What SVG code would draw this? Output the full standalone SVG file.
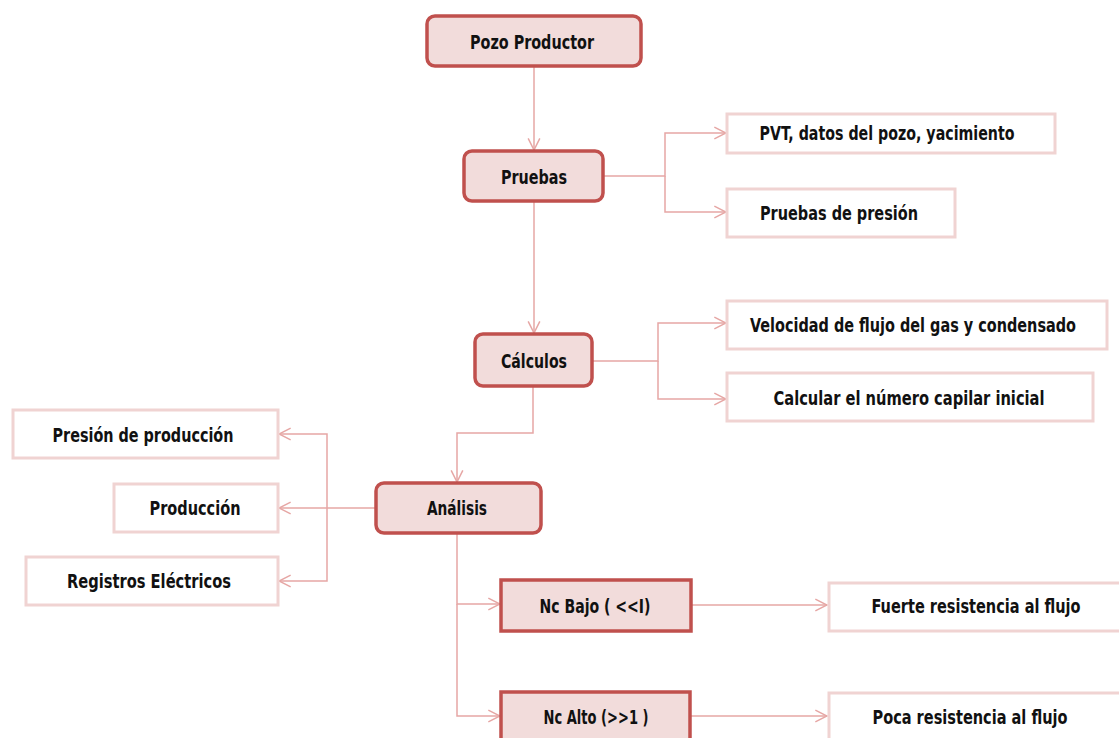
<svg xmlns="http://www.w3.org/2000/svg" width="1119" height="738" viewBox="0 0 1119 738">
  <style>
    .main { fill: #f2dcdb; stroke: #c0504d; stroke-width: 3.5; }
    .leaf { fill: #ffffff; stroke: #f0d3d2; stroke-width: 3; }
    .lbl { font-family: "DejaVu Sans Condensed", "DejaVu Sans", sans-serif; font-weight: bold; font-size: 19px; fill: #111111; text-anchor: middle; }
    .conn { fill: none; stroke: #e6a7a5; stroke-width: 1.5; }
  </style>
  <defs>
    <marker id="arr" viewBox="0 0 12 12" refX="11" refY="6" markerWidth="14" markerHeight="14" markerUnits="userSpaceOnUse" orient="auto">
      <path d="M1,1 L11,6 L1,11" fill="none" stroke="#e6a7a5" stroke-width="1.3"/>
    </marker>
  </defs>

  <rect width="1119" height="738" fill="#ffffff"/>

  <g id="connectors" class="conn" marker-end="url(#arr)">
    <path d="M534,66 V150"/>
    <path d="M603,176 H665 V133 H726"/>
    <path d="M665,176 V212 H726"/>
    <path d="M534,201 V333"/>
    <path d="M592,361 H658 V323 H726"/>
    <path d="M658,361 V399 H726"/>
    <path d="M533,386 V433 H457 V482"/>
    <path d="M376,508 H279"/>
    <path d="M327,508 V434 H279"/>
    <path d="M327,508 V581 H279"/>
    <path d="M457,533 V604 H500"/>
    <path d="M457,604 V716 H500"/>
    <path d="M691,605 H827"/>
    <path d="M690,716 H827"/>
  </g>

  <g id="pozo-productor">
    <rect class="main" x="427" y="16" width="214" height="50" rx="8"/>
    <text class="lbl" x="532" y="49" textLength="124" lengthAdjust="spacingAndGlyphs">Pozo Productor</text>
  </g>
  <g id="pruebas">
    <rect class="main" x="464" y="151" width="139" height="50" rx="8"/>
    <text class="lbl" x="534" y="184" textLength="66" lengthAdjust="spacingAndGlyphs">Pruebas</text>
  </g>
  <g id="pvt">
    <rect class="leaf" x="727" y="114" width="328" height="39"/>
    <text class="lbl" x="887" y="140" textLength="255" lengthAdjust="spacingAndGlyphs">PVT, datos del pozo, yacimiento</text>
  </g>
  <g id="pruebas-presion">
    <rect class="leaf" x="727" y="189" width="228" height="48"/>
    <text class="lbl" x="839" y="220" textLength="158" lengthAdjust="spacingAndGlyphs">Pruebas de presión</text>
  </g>
  <g id="calculos">
    <rect class="main" x="475" y="334" width="117" height="52" rx="8"/>
    <text class="lbl" x="534" y="368" textLength="66" lengthAdjust="spacingAndGlyphs">Cálculos</text>
  </g>
  <g id="velocidad">
    <rect class="leaf" x="727" y="301" width="380" height="48"/>
    <text class="lbl" x="913" y="332" textLength="326" lengthAdjust="spacingAndGlyphs">Velocidad de flujo del  gas y condensado</text>
  </g>
  <g id="numero-capilar">
    <rect class="leaf" x="727" y="373" width="366" height="48"/>
    <text class="lbl" x="909" y="405" textLength="271" lengthAdjust="spacingAndGlyphs">Calcular el número capilar inicial</text>
  </g>
  <g id="analisis">
    <rect class="main" x="376" y="483" width="165" height="50" rx="8"/>
    <text class="lbl" x="457" y="515" textLength="60" lengthAdjust="spacingAndGlyphs">Análisis</text>
  </g>
  <g id="presion-produccion">
    <rect class="leaf" x="13" y="410" width="265" height="48"/>
    <text class="lbl" x="143" y="442" textLength="181" lengthAdjust="spacingAndGlyphs">Presión de producción</text>
  </g>
  <g id="produccion">
    <rect class="leaf" x="114" y="484" width="164" height="48"/>
    <text class="lbl" x="195" y="515" textLength="91" lengthAdjust="spacingAndGlyphs">Producción</text>
  </g>
  <g id="registros">
    <rect class="leaf" x="26" y="557" width="252" height="48"/>
    <text class="lbl" x="149" y="588" textLength="164" lengthAdjust="spacingAndGlyphs">Registros Eléctricos</text>
  </g>
  <g id="nc-bajo">
    <rect class="main" x="501" y="580" width="190" height="51"/>
    <text class="lbl" x="595" y="613" textLength="111" lengthAdjust="spacingAndGlyphs">Nc Bajo ( &lt;&lt;I)</text>
  </g>
  <g id="nc-alto">
    <rect class="main" x="501" y="692" width="189" height="60"/>
    <text class="lbl" x="596" y="724" textLength="105" lengthAdjust="spacingAndGlyphs">Nc Alto (&gt;&gt;1 )</text>
  </g>
  <g id="fuerte-resistencia">
    <rect class="leaf" x="829" y="583" width="300" height="48"/>
    <text class="lbl" x="976" y="613" textLength="209" lengthAdjust="spacingAndGlyphs">Fuerte resistencia al flujo</text>
  </g>
  <g id="poca-resistencia">
    <rect class="leaf" x="829" y="693" width="300" height="60"/>
    <text class="lbl" x="970" y="724" textLength="195" lengthAdjust="spacingAndGlyphs">Poca resistencia al flujo</text>
  </g>
</svg>
